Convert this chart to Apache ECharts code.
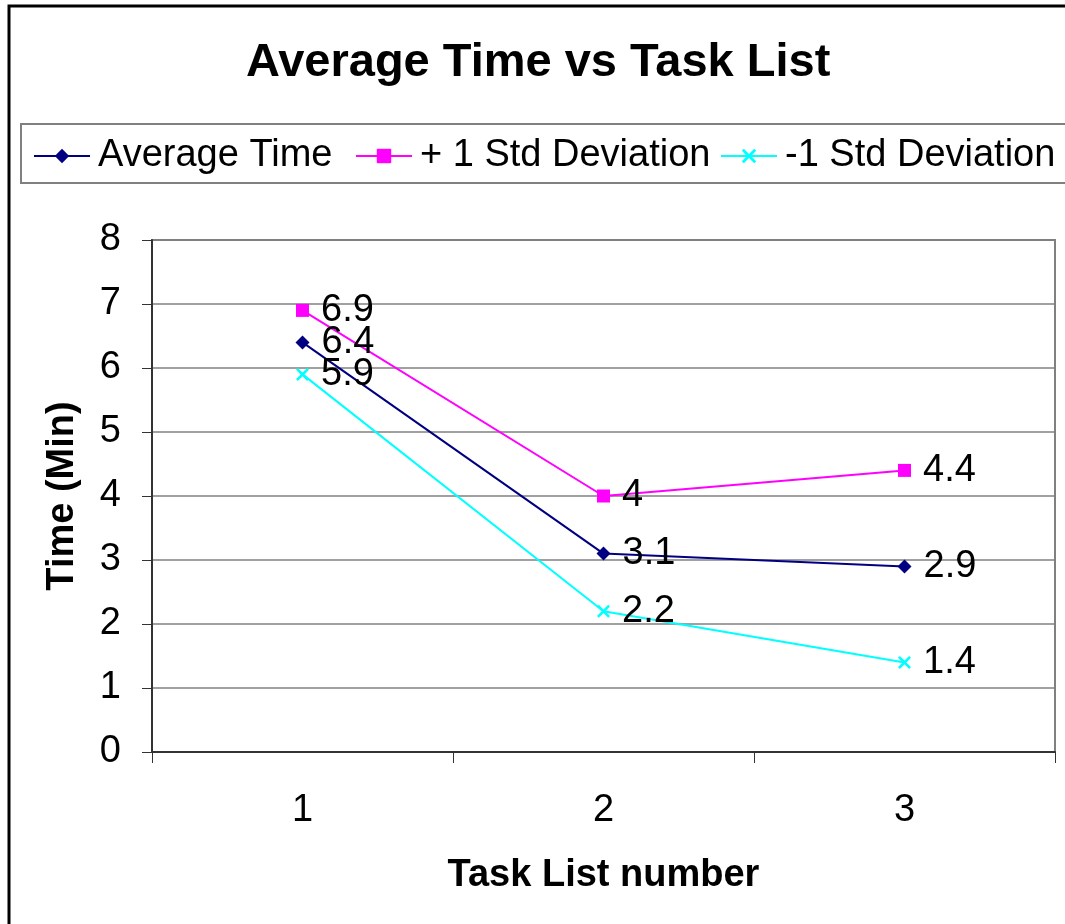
<!DOCTYPE html>
<html>
<head>
<meta charset="utf-8">
<script src="https://cdn.jsdelivr.net/npm/echarts@6/dist/echarts.min.js"></script>
<style>
html,body{margin:0;padding:0;background:#fff;}
#chart{width:1065px;height:924px;}
</style>
</head>
<body>
<div id="chart"></div>
<script>
const categories = ['1', '2', '3'];
const averageTime = [6.4, 3.1, 2.9];
const plusStd = [6.9, 4, 4.4];
const minusStd = [5.9, 2.2, 1.4];
const seriesNames = ['Average Time', '+ 1 Std Deviation', '-1 Std Deviation'];

const FONT = '"Liberation Sans", Arial, sans-serif';
const crossPath = 'path://M0,1.4L1.4,0L5,3.6L8.6,0L10,1.4L6.4,5L10,8.6L8.6,10L5,6.4L1.4,10L0,8.6L3.6,5Z';

function mkSeries(name, data, color, symbol, size) {
  return {
    name: name,
    type: 'line',
    data: data,
    symbol: symbol,
    symbolSize: size,
    showAllSymbol: true,
    lineStyle: { color: color, width: 2 },
    itemStyle: { color: color },
    emphasis: { disabled: true },
    label: {
      show: true,
      position: 'right',
      distance: 12,
      color: '#000',
      fontFamily: FONT,
      fontSize: 38
    },
    z: 3
  };
}

function mkLegend(name, left) {
  return {
    data: [name],
    left: left,
    top: 137,
    padding: 0,
    itemWidth: 56,
    itemHeight: 18,
    textStyle: { fontFamily: FONT, fontSize: 38, color: '#000', padding: [0, 0, 0, 3] }
  };
}

const chart = echarts.init(document.getElementById('chart'), null, { renderer: 'canvas' });
chart.setOption({
  animation: false,
  backgroundColor: '#fff',
  title: {
    text: 'Average Time vs Task List',
    left: 241,
    top: 35,
    textStyle: { fontFamily: FONT, fontSize: 47, fontWeight: 'bold', color: '#000' }
  },
  legend: [
    mkLegend(seriesNames[0], 33),
    mkLegend(seriesNames[1], 355),
    mkLegend(seriesNames[2], 720)
  ],
  graphic: [
    { type: 'rect', shape: { x: 9, y: 6, width: 1200, height: 1100 }, style: { fill: 'none', stroke: '#000', lineWidth: 3 }, z: -10, silent: true },
    { type: 'rect', shape: { x: 21, y: 124, width: 1200, height: 59 }, style: { fill: 'none', stroke: '#808080', lineWidth: 2 }, z: -10, silent: true }
  ],
  grid: {
    left: 152, right: 10, top: 240, bottom: 172,
    show: true, borderColor: '#808080', borderWidth: 2, backgroundColor: 'transparent'
  },
  xAxis: {
    type: 'category',
    data: categories,
    boundaryGap: true,
    name: 'Task List number',
    nameLocation: 'middle',
    nameGap: 105,
    nameTextStyle: { fontFamily: FONT, fontSize: 38, fontWeight: 'bold', color: '#000' },
    axisLine: { lineStyle: { color: '#333', width: 2 } },
    axisTick: { show: true, alignWithLabel: false, length: 11, lineStyle: { color: '#333', width: 1 } },
    axisLabel: { fontFamily: FONT, fontSize: 38, color: '#000', margin: 40 },
    splitLine: { show: false }
  },
  yAxis: {
    type: 'value',
    min: 0, max: 8, interval: 1,
    name: 'Time (Min)',
    nameLocation: 'middle',
    nameGap: 70,
    nameRotate: 90,
    nameTextStyle: { fontFamily: FONT, fontSize: 38, fontWeight: 'bold', color: '#000' },
    axisLine: { show: true, lineStyle: { color: '#333', width: 2 } },
    axisTick: { show: true, length: 10, lineStyle: { color: '#333', width: 1 } },
    axisLabel: { fontFamily: FONT, fontSize: 38, color: '#000', margin: 31 },
    splitLine: { show: true, lineStyle: { color: '#808080', width: 1.5 } }
  },
  series: [
    mkSeries(seriesNames[0], averageTime, '#000080', 'diamond', 14),
    mkSeries(seriesNames[1], plusStd, '#FF00FF', 'rect', 13),
    mkSeries(seriesNames[2], minusStd, '#00FFFF', crossPath, 13)
  ]
});
</script>
</body>
</html>
